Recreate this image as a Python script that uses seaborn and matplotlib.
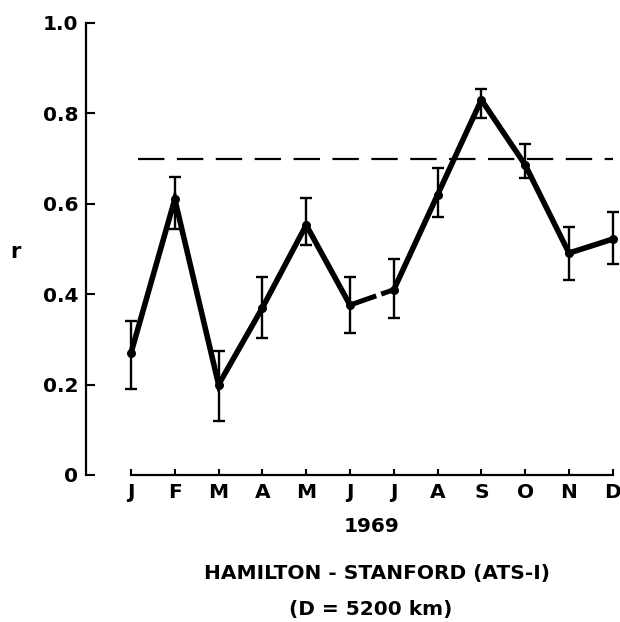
import matplotlib
matplotlib.use("Agg")
import matplotlib.pyplot as plt
import seaborn as sns
import pandas as pd

# ---- data ----
months = ["J", "F", "M", "A", "M", "J", "J", "A", "S", "O", "N", "D"]
r_values = [0.27, 0.61, 0.20, 0.37, 0.553, 0.376, 0.41, 0.62, 0.83, 0.686, 0.491, 0.522]
r_upper = [0.34, 0.66, 0.275, 0.438, 0.613, 0.438, 0.478, 0.679, 0.854, 0.732, 0.549, 0.582]
r_lower = [0.19, 0.545, 0.12, 0.303, 0.509, 0.314, 0.347, 0.571, 0.79, 0.657, 0.431, 0.467]
threshold = 0.70
y_ticks = [0, 0.2, 0.4, 0.6, 0.8, 1.0]
y_tick_labels = ["0", "0.2", "0.4", "0.6", "0.8", "1.0"]
year_label = "1969"
title_line1 = "HAMILTON - STANFORD (ATS-I)"
title_line2 = "(D = 5200 km)"
y_label = "r"

sns.set_theme(style="ticks", rc={
    "text.color": "black", "axes.labelcolor": "black",
    "xtick.color": "black", "ytick.color": "black",
    "axes.edgecolor": "black",
})
plt.rcParams["font.family"] = ["DejaVu Sans"]
plt.rcParams["lines.scale_dashes"] = False

fig = plt.figure(figsize=(6.2, 6.22), dpi=100)
ax = fig.add_axes([86 / 620, 147 / 622, 534 / 620, 460 / 622])

df = pd.DataFrame({
    "idx": range(len(months)),
    "r": r_values,
    "part": [0] * 6 + [1] * 6,
})

# main line, in two pieces with a small break between June and July
for _, sub in df.groupby("part"):
    sns.lineplot(data=sub, x="idx", y="r", color="black", lw=4,
                 ax=ax, solid_capstyle="round", solid_joinstyle="miter",
                 zorder=3)
bridge = df.iloc[5:7]
ax.plot(bridge["idx"], bridge["r"], color="black", lw=3.6,
        linestyle=(0, (20, 3.8, 60, 1)), dash_capstyle="butt", zorder=3)

# error bars
yerr = [[v - lo for v, lo in zip(r_values, r_lower)],
        [hi - v for v, hi in zip(r_values, r_upper)]]
ax.errorbar(df["idx"], r_values, yerr=yerr, fmt="none", ecolor="black",
            elinewidth=1.7, capsize=4.3, capthick=1.7, zorder=2)

# markers
sns.scatterplot(x=df["idx"], y=df["r"], color="black", s=42,
                edgecolor="black", linewidth=0, ax=ax, zorder=4)

# reference dashed line
ax.hlines(threshold, 0.15, 11, colors="black", lw=1.6,
          linestyles=[(0, (19, 9))], zorder=1)

# axes styling
ax.set_xlim(-45 / 43.8, 489 / 43.8)
ax.set_ylim(0, 460 / 452)
ax.set_xticks(list(df["idx"]))
ax.set_xticklabels(months, fontsize=14.5, fontweight="bold")
ax.set_yticks(y_ticks)
ax.set_yticklabels(y_tick_labels, fontsize=14.5, fontweight="bold")
ax.tick_params(axis="x", direction="in", length=4.5, width=1.5, pad=6)
ax.tick_params(axis="y", direction="in", length=6.5, width=1.5, pad=5.5)
for s in ["top", "right"]:
    ax.spines[s].set_visible(False)
ax.spines["left"].set_bounds(0, 1)
ax.spines["bottom"].set_bounds(0, 11)
ax.spines["left"].set_linewidth(1.6)
ax.spines["bottom"].set_linewidth(1.6)
ax.set_xlabel("")
ax.set_ylabel(y_label, rotation=0, fontsize=15, fontweight="bold",
              va="center", ha="center")
ax.yaxis.set_label_coords(-71 / 534, 223 / 460)

fig.text(372 / 620, 1 - 527 / 622, year_label, ha="center", va="center",
         fontsize=14.5, fontweight="bold")
fig.text(377 / 620, 1 - 574 / 622, title_line1, ha="center", va="center",
         fontsize=14.5, fontweight="bold")
fig.text(371 / 620, 1 - 609 / 622, title_line2, ha="center", va="center",
         fontsize=14.5, fontweight="bold")

fig.savefig("out.png", dpi=100, facecolor="white")
